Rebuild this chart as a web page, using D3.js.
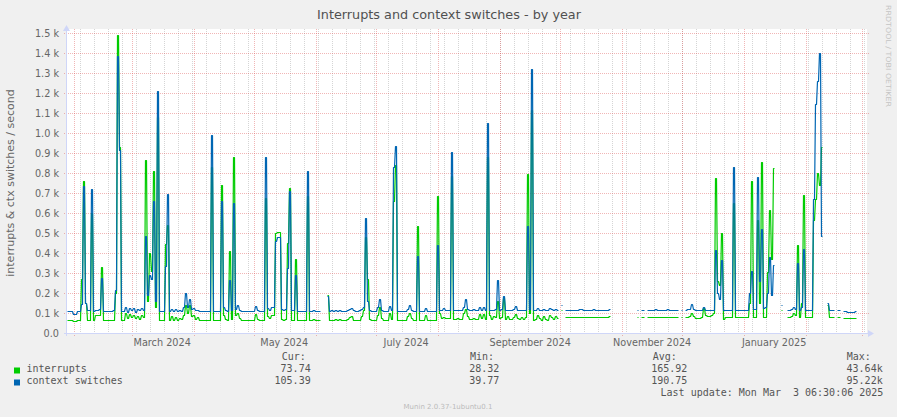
<!DOCTYPE html>
<html><head><meta charset="utf-8">
<script src="https://cdn.jsdelivr.net/npm/d3@7/dist/d3.min.js"></script>
<style>
html,body{margin:0;padding:0;background:#f0f0f0;}
svg{display:block;}
text{white-space:pre;}
</style></head><body>
<svg id="chart" width="897" height="417"></svg>
<script>
// ---------- data ----------
const chartTitle = "Interrupts and context switches - by year";
const yAxisTitle = "interrupts & ctx switches / second";
const startTime = Date.UTC(2024, 0, 28, 16, 0, 0);   // first daily sample
const dayCount = 400;
const yTicks = [0,100,200,300,400,500,600,700,800,900,1000,1100,1200,1300,1400,1500];
const yTickLabels = ["0.0","0.1 k","0.2 k","0.3 k","0.4 k","0.5 k","0.6 k","0.7 k","0.8 k","0.9 k","1.0 k","1.1 k","1.2 k","1.3 k","1.4 k","1.5 k"];
const seriesNames = ["interrupts", "context switches"];
const seriesColors = ["#00cc00", "#0066b3"];
const curValues = ["73.74", "105.39"];
const minValues = ["28.32", "39.77"];
const avgValues = ["165.92", "190.75"];
const maxValues = ["43.64k", "95.22k"];
const lastUpdate = "Last update: Mon Mar  3 06:30:06 2025";
const watermark = "Munin 2.0.37-1ubuntu0.1";
const sideText = "RRDTOOL / TOBI OETIKER";

// daily averages (one value per day, null = no data)
const interrupts = [
  65,65,65,58,58,65,65,270,760,150, 65,65,600,65,88,88,88,330,65,65,
  65,65,65,65,200,1490,930,65,65,100, 75,95,80,90,75,85,70,90,80,865,
  160,400,310,810,130,1080,65,65,65,445, 540,65,85,65,80,65,75,70,90,140,
  100,140,85,90,70,80,65,65,65,65, 65,65,830,65,65,65,65,740,90,70,
  65,410,70,880,90,100,75,65,65,65, 65,65,65,65,95,70,65,65,65,673,
  85,75,88,90,500,503,503,70,65,70, 448,723,65,65,368,65,65,65,65,65,
  682,65,65,70,65,65,65,null,null,null, 190,65,65,65,68,65,70,65,65,65,
  68,80,85,65,65,65,65,85,110,480, 270,70,65,65,65,90,130,75,65,65,
  65,100,70,660,837,65,65,65,65,65, 85,100,75,65,65,535,65,65,65,90,
  65,65,65,65,65,685,100,75,80,75, 75,75,780,70,70,75,70,70,100,120,
  85,68,68,75,68,70,95,75,95,70, 880,90,70,85,80,157,75,80,175,70,
  85,70,68,80,95,75,68,80,70,80, 795,100,1115,65,70,90,75,65,85,70,
  65,90,80,70,85,75,null,115,null,78, 78,78,78,78,78,78,80,80,78,78,
  78,78,78,78,78,78,78,78,78,78, 78,82,null,null,null,null,null,null,null,null,
  null,null,null,null,null,78,null,78,78,null, 78,78,78,78,78,78,78,78,78,78,
  78,78,78,78,78,78,null,78,null,78, 80,85,100,85,75,75,75,80,125,90,
  85,85,87,100,773,260,240,498,70,78, 78,78,78,650,78,78,78,78,78,78,
  78,150,757,78,78,560,150,852,80,80, 300,610,370,823,null,null,null,110,null,null,
  78,78,85,100,90,437,78,150,690,78, 78,78,78,560,670,798,740,928,null,null,
  140,78,78,78,null,78,78,null,75,75, 72,72,73,74,73.74,null,null,null,null,null
];
const contextSwitches = [
  107,107,107,95,95,107,107,145,733,150, 110,110,715,107,112,112,120,275,107,107,
  107,107,107,110,215,1380,915,107,107,130, 105,125,110,125,105,120,110,125,110,485,
  190,290,270,660,160,1210,107,107,107,335, 695,107,120,107,118,107,115,107,130,200,
  130,170,120,125,110,115,107,107,107,107, 107,107,990,107,107,107,107,655,130,110,
  107,265,110,648,120,140,115,107,107,107, 107,107,107,107,135,110,107,107,107,878,
  125,115,128,130,460,478,478,120,110,120, 323,707,115,110,290,107,107,107,107,107,
  807,107,107,112,107,107,107,null,null,null, 185,107,110,107,110,107,115,107,108,107,
  112,120,125,110,107,107,110,120,130,573, 160,110,107,107,107,130,170,115,107,107,
  107,135,110,828,935,107,107,107,107,107, 120,140,115,107,107,382,107,107,107,122,
  107,107,107,107,107,440,112,112,125,112, 112,115,903,112,112,115,112,112,130,170,
  120,112,112,118,112,112,130,115,130,115, 1048,112,112,115,120,265,115,120,185,112,
  115,112,112,118,135,115,112,115,112,115, 535,120,1315,110,115,125,112,110,120,115,
  110,125,118,112,120,115,null,140,null,115, 115,115,115,115,115,115,118,118,115,115,
  115,115,115,118,115,115,115,115,115,115, 115,118,null,null,null,null,null,null,null,null,
  null,null,null,null,null,115,null,115,115,null, 115,115,115,115,118,115,115,115,115,115,
  118,115,115,115,115,115,null,115,null,115, 118,120,145,120,112,112,112,115,130,110,
  112,112,112,115,415,200,170,365,115,115, 115,115,115,828,115,115,115,115,115,115,
  115,200,307,118,118,778,260,520,125,130, 200,378,190,340,null,null,null,140,null,null,
  115,115,120,130,120,348,115,130,418,115, 115,115,115,670,1143,1257,1398,485,null,null,
  148,112,112,112,null,112,112,null,108,108, 105,105,105,105,105.39,null,null,null,null,null
];

// ---------- drawing ----------
const svg = d3.select("#chart");
const FONT = "'DejaVu Sans', Verdana, sans-serif";
const MONO = "'DejaVu Sans Mono', monospace";
const TXT = "#666666";

const start = new Date(startTime);
const end = d3.utcDay.offset(start, dayCount);
const x = d3.scaleUtc().domain([start, end]).range([67, 867]);
const y = d3.scaleLinear().domain([0, 1520]).range([333, 29]);

// canvas
svg.append("rect").attr("x", x.range()[0]).attr("y", y.range()[1])
  .attr("width", x.range()[1] - x.range()[0]).attr("height", y.range()[0] - y.range()[1])
  .attr("fill", "#ffffff");

const grid = svg.append("g");
// minor weekly grid
const weeks = d3.utcSunday.range(start, end);
grid.selectAll("line.wk").data(weeks).join("line")
  .attr("x1", d => Math.round(x(d)) + 0.5).attr("x2", d => Math.round(x(d)) + 0.5)
  .attr("y1", y.range()[1]).attr("y2", y(0) + 2)
  .attr("stroke", "rgba(143,143,143,0.75)").attr("stroke-width", 0.5)
  .attr("stroke-dasharray", "1,1");
// major monthly grid
const months = d3.utcMonth.range(start, end);
grid.selectAll("line.mo").data(months).join("line")
  .attr("x1", d => Math.round(x(d)) + 0.5).attr("x2", d => Math.round(x(d)) + 0.5)
  .attr("y1", y.range()[1]).attr("y2", y(0) + 3)
  .attr("stroke", "rgba(222,79,79,0.6)").attr("stroke-width", 0.7)
  .attr("stroke-dasharray", "1,1");
// horizontal major grid
grid.selectAll("line.hz").data(yTicks.filter(v => v > 0)).join("line")
  .attr("x1", x.range()[0] - 3).attr("x2", x.range()[1] + 2)
  .attr("y1", d => Math.round(y(d)) + 0.5).attr("y2", d => Math.round(y(d)) + 0.5)
  .attr("stroke", "rgba(222,79,79,0.6)").attr("stroke-width", 0.7)
  .attr("stroke-dasharray", "1,1");

// axes labels via d3 axes
const yAxis = d3.axisLeft(y).tickValues(yTicks)
  .tickFormat((d, i) => yTickLabels[i]).tickSize(0).tickPadding(8);
const gy = svg.append("g").attr("transform", `translate(${x.range()[0]},0)`).call(yAxis);
gy.select(".domain").remove();
gy.selectAll("text").attr("font-family", FONT).attr("font-size", "9.7px").attr("fill", TXT);

const labelMonths = months.filter(m => m.getUTCMonth() % 2 === 0)
  .map(m => d3.utcDay.offset(m, 15)).filter(d => d <= end);
const xAxis = d3.axisBottom(x).tickValues(labelMonths)
  .tickFormat(d3.utcFormat("%B %Y")).tickSize(0).tickPadding(6);
const gx = svg.append("g").attr("transform", `translate(0,${y(0)})`).call(xAxis);
gx.select(".domain").remove();
gx.selectAll("text").attr("font-family", FONT).attr("font-size", "9.7px").attr("fill", TXT);

// data lines (two pixel columns per day, slope mode like rrdtool)
function pts(arr) {
  const out = [];
  arr.forEach((v, i) => {
    const d0 = d3.utcDay.offset(start, i);
    out.push({t: d3.utcHour.offset(d0, 6), v});
    out.push({t: d3.utcHour.offset(d0, 18), v});
  });
  return out;
}
const line = d3.line().defined(p => p.v !== null)
  .x(p => Math.floor(x(p.t)) + 0.5)
  .y(p => Math.floor(y(p.v)) + 0.5);
[interrupts, contextSwitches].forEach((arr, k) => {
  svg.append("path").datum(pts(arr)).attr("d", line)
    .attr("fill", "none").attr("stroke", seriesColors[k]).attr("stroke-width", 1.2)
    .attr("stroke-linejoin", "round");
});

// axis lines + arrows
const AX = "#cfd6f8";
svg.append("line").attr("x1", x.range()[0] - 3).attr("x2", x.range()[1] + 4)
  .attr("y1", y(0) + 0.5).attr("y2", y(0) + 0.5).attr("stroke", AX).attr("stroke-width", 1);
svg.append("line").attr("x1", x.range()[0] - 0.5).attr("x2", x.range()[0] - 0.5)
  .attr("y1", y(0) + 3).attr("y2", y.range()[1] - 2).attr("stroke", AX).attr("stroke-width", 1);
svg.append("path").attr("d", `M${x.range()[1]+1},${y(0)-3} L${x.range()[1]+7},${y(0)+0.5} L${x.range()[1]+1},${y(0)+4} Z`).attr("fill", AX);
svg.append("path").attr("d", `M${x.range()[0]-4},${y.range()[1]+2} L${x.range()[0]-0.5},${y.range()[1]-4} L${x.range()[0]+3},${y.range()[1]+2} Z`).attr("fill", AX);

// title
svg.append("text").attr("x", 449).attr("y", 18.5).attr("text-anchor", "middle")
  .attr("font-family", FONT).attr("font-size", "12.8px").attr("fill", "#505050").text(chartTitle);
// y title
svg.append("text").attr("transform", "translate(14,183) rotate(-90)").attr("text-anchor", "middle")
  .attr("font-family", FONT).attr("font-size", "11px").attr("fill", TXT).text(yAxisTitle);
// side text
svg.append("text").attr("transform", "translate(885.5,5) rotate(90)")
  .attr("font-family", FONT).attr("font-size", "7px").attr("fill", "#c4c4c4")
  .attr("textLength", 102).attr("lengthAdjust", "spacingAndGlyphs").text(sideText);

// legend
const LG = "#555555";
const lg = svg.append("g").attr("font-family", MONO).attr("font-size", "10px").attr("fill", LG);
const cols = [
  {head: "Cur:", hx: 281.7, vx: 310.7, vals: curValues},
  {head: "Min:", hx: 470, vx: 499.3, vals: minValues},
  {head: "Avg:", hx: 652.7, vx: 687.3, vals: avgValues},
  {head: "Max:", hx: 846.7, vx: 882.7, vals: maxValues}
];
cols.forEach(c => {
  lg.append("text").attr("x", c.hx).attr("y", 360).text(c.head);
  c.vals.forEach((v, i) => lg.append("text").attr("x", c.vx).attr("y", 372 + i * 12)
    .attr("text-anchor", "end").text(v));
});
seriesNames.forEach((n, i) => {
  svg.append("rect").attr("x", 14).attr("y", 367.5 + i * 12).attr("width", 6).attr("height", 6)
    .attr("fill", seriesColors[i]);
  lg.append("text").attr("x", 26.5).attr("y", 372 + i * 12).text(n);
});
lg.append("text").attr("x", 883.3).attr("y", 396).attr("text-anchor", "end").text(lastUpdate);
svg.append("text").attr("x", 448).attr("y", 409).attr("text-anchor", "middle")
  .attr("font-family", FONT).attr("font-size", "7px").attr("fill", "#bbbbbb").text(watermark);
</script>
</body></html>
